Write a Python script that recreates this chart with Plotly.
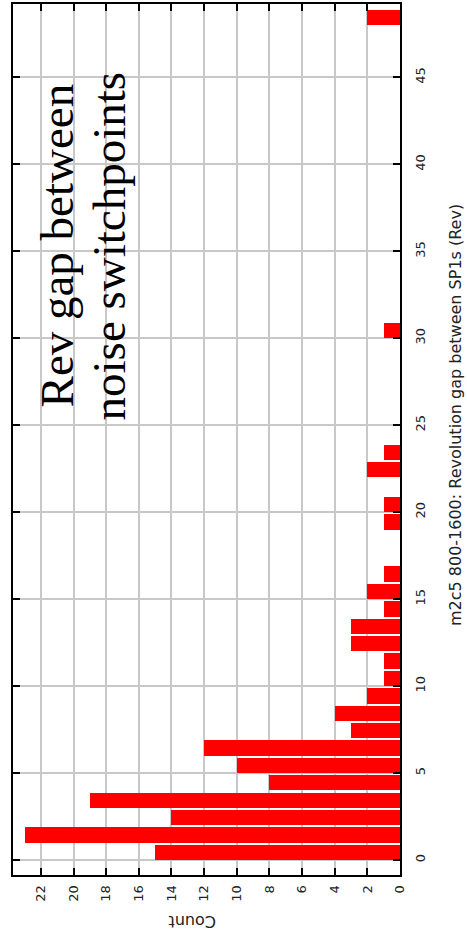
import plotly.graph_objects as go

# Histogram of revolution gaps between SP1 switchpoints (bin start, count)
gap_bins = [0, 1, 2, 3, 4, 5, 6, 7, 8, 9, 10, 11, 12, 13, 14, 15, 16, 19, 20, 22, 23, 30, 48]
gap_counts = [15, 23, 14, 19, 8, 10, 12, 3, 4, 2, 1, 1, 3, 3, 1, 2, 1, 1, 1, 2, 1, 1, 2]

count_ticks = list(range(0, 24, 2))
gap_ticks = list(range(0, 50, 5))

W, H = 467, 941
L, R, T, B = 13, 67, 2, 66
PW, PH = W - L - R, H - T - B


def px(x):
    return (x - L) / PW


def py(y):
    return (H - B - y) / PH


fig = go.Figure()
fig.add_trace(go.Bar(
    x=gap_counts,
    y=gap_bins,
    orientation="h",
    width=0.88,
    offset=0,
    marker=dict(color="#f00", line=dict(width=0)),
))

axis_common = dict(
    showline=True, linecolor="black", linewidth=2, mirror="allticks",
    ticks="inside", ticklen=7, tickwidth=1.5, tickcolor="black",
    showgrid=True, gridcolor="#c8c8c8", gridwidth=2,
    zeroline=False,
    tickfont=dict(family="DejaVu Sans", size=13, color="#222"),
    tickangle=-90,
)

fig.update_xaxes(range=[23.71, 0], tickvals=count_ticks, side="bottom",
                 ticklabelstandoff=3, **axis_common)
fig.update_yaxes(range=[-0.86, 49.22], tickvals=gap_ticks, side="right",
                 ticklabelstandoff=7, **axis_common)

annotations = [
    dict(text="Rev gap between", x=px(57), y=py(244), textangle=-90,
         font=dict(family="Liberation Serif", size=47, color="black")),
    dict(text="noise switchpoints", x=px(109), y=py(245), textangle=-90,
         font=dict(family="Liberation Serif", size=47, color="black")),
    dict(text="Count", x=px(192), y=py(921), textangle=180,
         font=dict(family="DejaVu Sans", size=16, color="#222")),
    dict(text="m2c5 800-1600: Revolution gap between SP1s (Rev)", x=px(455), y=py(414),
         textangle=-90, font=dict(family="DejaVu Sans", size=16, color="#222")),
]
for a in annotations:
    a.update(xref="paper", yref="paper", showarrow=False, xanchor="center", yanchor="middle")

fig.update_layout(
    width=W, height=H,
    margin=dict(l=L, r=R, t=T, b=B),
    paper_bgcolor="white", plot_bgcolor="white",
    showlegend=False,
    bargap=0,
    annotations=annotations,
)

fig.write_html("out.html")
